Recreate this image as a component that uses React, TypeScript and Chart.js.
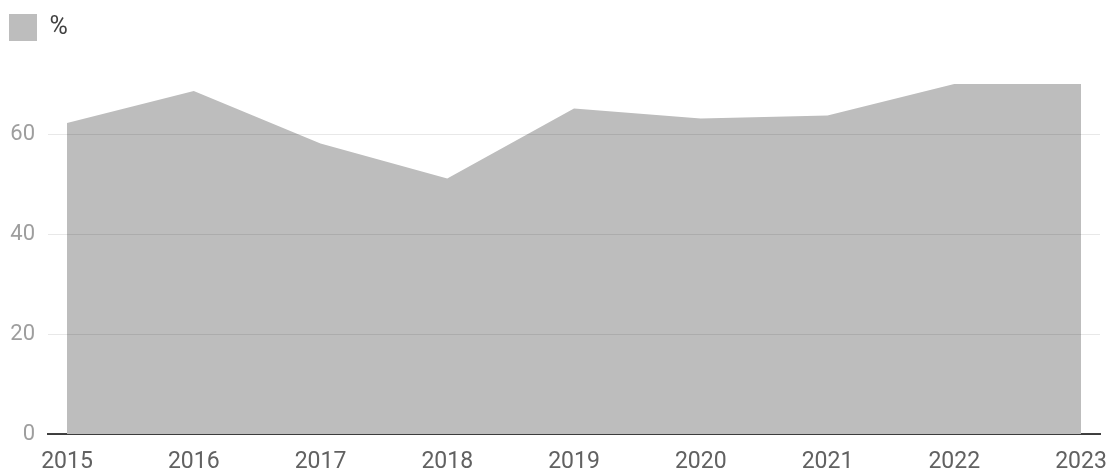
import React, { useEffect, useRef } from "react";
import { Chart, registerables } from "chart.js";

Chart.register(...registerables);

const years = [2015, 2016, 2017, 2018, 2019, 2020, 2021, 2022, 2023];
const values = [62.2, 68.6, 58.1, 51.1, 65.1, 63.1, 63.7, 70, 70];
const yTicks = [0, 20, 40, 60];
const seriesLabel = "%";

const legendHeightPlugin = {
  id: "legendHeight",
  beforeInit(chart: any) {
    const legend = chart.legend;
    if (!legend) return;
    const origFit = legend.fit.bind(legend);
    legend.fit = function () {
      origFit();
      this.height = 79;
    };
  },
};

export default function App() {
  const ref = useRef<HTMLCanvasElement | null>(null);
  useEffect(() => {
    document.body.style.margin = "0";
    const ctx = ref.current!;
    const chart = new Chart(ctx, {
      type: "line",
      plugins: [legendHeightPlugin],
      data: {
        datasets: [
          {
            label: seriesLabel,
            data: years.map((y, i) => ({ x: y, y: values[i] })),
            backgroundColor: "#bdbdbd",
            borderColor: "#bdbdbd",
            borderWidth: 0,
            pointRadius: 0,
            fill: "origin",
            tension: 0,
          },
        ],
      },
      options: {
        animation: false,
        responsive: false,
        maintainAspectRatio: false,
        layout: { padding: { left: 0, right: 9, top: 5, bottom: 0 } },
        plugins: {
          tooltip: { enabled: false },
          legend: {
            display: true,
            position: "top",
            align: "start",
            labels: {
              boxWidth: 28,
              boxHeight: 27,
              padding: 9,
              color: "#424242",
              font: { family: "Roboto", size: 25 },
            },
          },
        },
        scales: {
          x: {
            type: "linear",
            min: 2014.85,
            max: 2023.15,
            afterBuildTicks: (axis: any) => {
              axis.ticks = years.map((v) => ({ value: v }));
            },
            afterFit: (axis: any) => {
              axis.height = 38;
              axis.paddingLeft = 0;
              axis.paddingRight = 0;
            },
            grid: { display: false, drawTicks: false },
            border: { display: true, color: "#424242", width: 2 },
            ticks: {
              color: "#616161",
              font: { family: "Roboto", size: 23 },
              padding: 14,
              maxRotation: 0,
              autoSkip: false,
              callback: (v: any) => String(v),
            },
          },
          y: {
            min: 0,
            max: 70,
            afterBuildTicks: (axis: any) => {
              axis.ticks = yTicks.map((v) => ({ value: v }));
            },
            afterFit: (axis: any) => {
              axis.width = 48;
              axis.paddingTop = 0;
              axis.paddingBottom = 0;
            },
            grid: {
              color: "rgba(0,0,0,0.09)",
              lineWidth: 1,
              drawTicks: false,
              z: 1,
            },
            border: { display: false },
            ticks: {
              color: "#9e9e9e",
              font: { family: "Roboto", size: 22 },
              padding: 13,
              callback: (v: any) => String(v),
            },
          },
        },
      },
    });
    return () => chart.destroy();
  }, []);
  return (
    <div style={{ position: "absolute", left: 0, top: 0, width: 1109, height: 472 }}>
      <canvas ref={ref} width={1109} height={472} style={{ width: 1109, height: 472 }} />
    </div>
  );
}
